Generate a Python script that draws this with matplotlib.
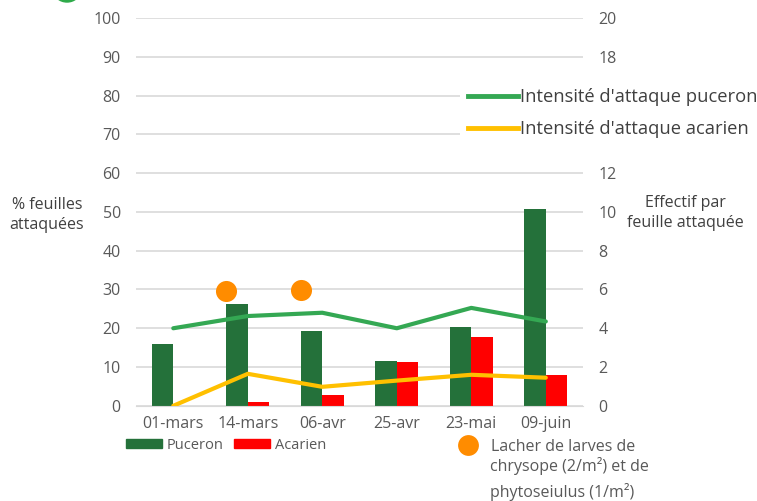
import numpy as np
import matplotlib.pyplot as plt
from matplotlib.lines import Line2D
from matplotlib.patches import Patch, Ellipse

plt.rcParams['font.family'] = ['Open Sans', 'DejaVu Sans']

dates = ["01-mars", "14-mars", "06-avr", "25-avr", "23-mai", "09-juin"]
puceron = [16.0, 26.3, 19.4, 11.6, 20.3, 50.8]
acarien = [0.0, 1.0, 2.8, 11.4, 17.7, 8.0]
intens_puceron = [4.0, 4.63, 4.8, 4.0, 5.05, 4.35]
intens_acarien = [0.0, 1.65, 0.98, 1.3, 1.6, 1.45]
# dates des lachers d'auxiliaires
lacher_dates = ["14-mars", "06-avr"]
lacher_y = [29.7, 29.8]

GREEN_BAR = "#24713a"
RED = "#ff0000"
GREEN_LINE = "#34a853"
YELLOW = "#ffc000"
ORANGE = "#ff8c00"
GREY = "#595959"
DARK = "#404040"

W, H = 757, 501
fig = plt.figure(figsize=(W / 100, H / 100), dpi=100)
ax = fig.add_axes([0.1797, 0.190, 0.5905, 0.774])
ax2 = ax.twinx()

x = np.arange(len(dates))
w = 0.29
ax.bar(x - w / 2, puceron, w, color=GREEN_BAR, label="Puceron", zorder=2)
ax.bar(x + w / 2, acarien, w, color=RED, label="Acarien", zorder=2)

lx = [dates.index(d) - w for d in lacher_dates]
ax.scatter(lx, lacher_y, s=230, color=ORANGE, zorder=4, clip_on=False, linewidths=0)

ax2.plot(x, intens_puceron, color=GREEN_LINE, lw=3, solid_capstyle="round")
ax2.plot(x, intens_acarien, color=YELLOW, lw=3, solid_capstyle="round")

ax.set_xlim(-0.5, len(dates) - 0.5)
ax.set_ylim(0, 100)
ax2.set_ylim(0, 20)
ax.set_yticks(np.arange(0, 101, 10))
right_ticks = np.arange(0, 21, 2)
ax2.set_yticks(right_ticks)
# 14 et 16 sont masqués par la légende des courbes
ax2.set_yticklabels(["" if t in (14, 16) else str(t) for t in right_ticks])
ax.set_xticks(x)
ax.set_xticklabels(dates)
ax.grid(axis="y", color="#d9d9d9", lw=1.2, zorder=0)
ax.set_axisbelow(True)

for a in (ax, ax2):
    for s in a.spines.values():
        s.set_visible(False)
    a.tick_params(length=0, labelsize=11.5, colors=GREY)
ax.tick_params(axis="y", pad=11)
ax.tick_params(axis="x", pad=7)
ax2.tick_params(axis="y", pad=11)
ax.spines["bottom"].set_visible(True)
ax.spines["bottom"].set_color("#d9d9d9")

fig.text(0.062, 0.571, "% feuilles\nattaquées", ha="center", va="center",
         fontsize=11.5, color=DARK, linespacing=1.4)
fig.text(0.905, 0.575, "Effectif par\nfeuille attaquée", ha="center", va="center",
         fontsize=11.5, color=DARK, linespacing=1.4)

# petit logo vert coupé en haut à gauche
fig.patches.append(Ellipse((67 / W, 1 + 9 / H), 26 / W, 22 / H,
                           transform=fig.transFigure, color="#2eaa4a"))

line_handles = [Line2D([], [], color=GREEN_LINE, lw=3.5),
                Line2D([], [], color=YELLOW, lw=3.5)]
fig.legend(line_handles, ["Intensité d'attaque puceron", "Intensité d'attaque acarien"],
           loc="upper left", bbox_to_anchor=(460 / W, 1 - 80 / H), frameon=True,
           facecolor="white", edgecolor="none", framealpha=1, fancybox=False,
           fontsize=13.2, labelcolor=DARK, handlelength=2.7, handletextpad=0.1,
           labelspacing=0.75, borderaxespad=0, borderpad=0.45)

bar_handles = [Patch(color=GREEN_BAR), Patch(color=RED)]
fig.legend(bar_handles, ["Puceron", "Acarien"], loc="upper left",
           bbox_to_anchor=(126 / W, 1 - 438 / H), frameon=False, ncol=2, fontsize=10.5,
           labelcolor=GREY, handlelength=2.5, handleheight=0.55, handletextpad=0.3,
           columnspacing=0.7, borderaxespad=0, borderpad=0)

dot_handle = [Line2D([], [], marker="o", ls="none", color=ORANGE, markersize=15,
                     markeredgewidth=0)]
fig.legend(dot_handle, ["Lacher de larves de"],
           loc="upper left", bbox_to_anchor=(458 / W, 1 - 439 / H), frameon=False,
           fontsize=11.5, labelcolor=GREY, handletextpad=0.75, handlelength=1.3,
           borderaxespad=0, borderpad=0)
fig.text(490 / W, 1 - 479 / H, "chrysope (2/m²) et de\nphytoseiulus (1/m²)",
         ha="left", va="center", fontsize=11.5, color=GREY, linespacing=1.6)

fig.savefig("out.png", dpi=100)
